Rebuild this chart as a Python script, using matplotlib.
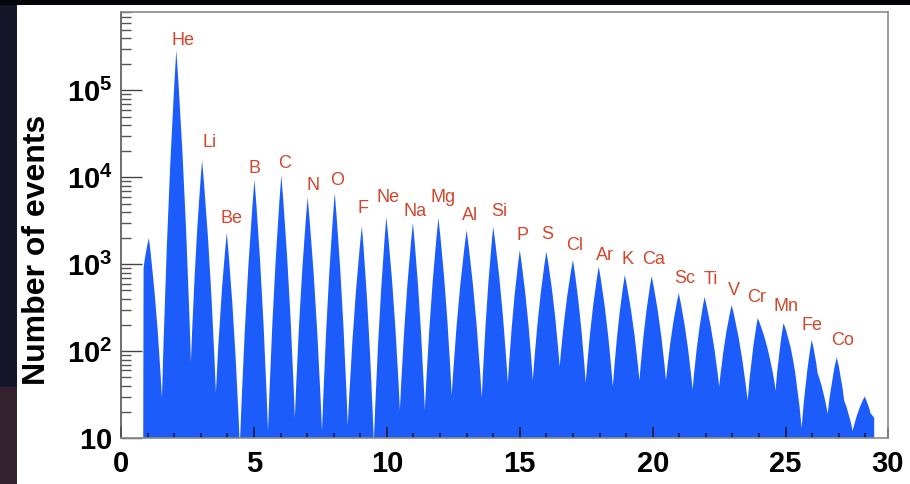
import numpy as np
import matplotlib
matplotlib.use("Agg")
import matplotlib.pyplot as plt
from matplotlib.patches import Rectangle, PathPatch
from matplotlib.path import Path

plt.rcParams['font.family'] = ['Liberation Sans', 'DejaVu Sans']
plt.rcParams['mathtext.fontset'] = 'custom'
plt.rcParams['mathtext.rm'] = 'Liberation Sans:bold'
plt.rcParams['mathtext.bf'] = 'Liberation Sans:bold'
plt.rcParams['mathtext.it'] = 'Liberation Sans:bold'

# peak tops of the charge histogram (Z, counts)
peak_z = [1.05, 2.08, 3.05, 3.98, 5.02, 6.03, 7.02, 8.04, 9.06, 9.98, 10.98, 11.94,
          13.0, 14.0, 15.0, 16.0, 17.0, 17.97, 18.95, 19.96, 20.98, 21.95, 22.97,
          23.95, 24.92, 25.98, 26.92, 27.97]
peak_counts = [2000, 2.9e5, 1.57e4, 2.3e3, 9.4e3, 1.05e4, 5.9e3, 6.6e3, 2.75e3, 3.5e3,
               3.0e3, 3.4e3, 2.46e3, 2.7e3, 1.45e3, 1.4e3, 1.12e3, 940, 750, 730,
               465, 420, 340, 240, 210, 134, 85, 30]

# minima between neighbouring peaks
valley_z = [1.54, 2.63, 3.57, 4.47, 5.53, 6.54, 7.56, 8.53, 9.51, 10.49, 11.43, 12.44,
            13.57, 14.55, 15.49, 16.5, 17.48, 18.5, 19.5, 20.5, 21.5, 22.5, 23.57,
            24.62, 25.6, 26.58, 27.52]
valley_counts = [29, 75, 33, 8, 12, 17, 12, 14, 9, 21, 21, 31, 29, 43, 46, 66, 43, 39,
                 46, 46, 36, 39, 27, 35, 13, 19, 12]

# shoulders on the high-Z peaks and the histogram edges
shoulder_z = [0.83, 0.85, 24.47, 25.26, 26.2, 27.2, 28.2, 28.33, 28.34]
shoulder_counts = [0.5, 900, 66, 85, 56, 27, 19, 17, 0.5]

elements = ['He', 'Li', 'Be', 'B', 'C', 'N', 'O', 'F', 'Ne', 'Na', 'Mg', 'Al', 'Si',
            'P', 'S', 'Cl', 'Ar', 'K', 'Ca', 'Sc', 'Ti', 'V', 'Cr', 'Mn', 'Fe', 'Co']
label_z = [2.33, 3.35, 4.14, 5.04, 6.17, 7.22, 8.12, 9.1, 10.04, 11.05, 12.1, 13.12,
           14.21, 15.11, 16.05, 17.07, 18.2, 19.06, 20.04, 21.2, 22.2, 23.05, 23.9,
           25.03, 26.0, 27.14]
label_counts = [3.76e5, 2.5e4, 3.4e3, 1.26e4, 1.44e4, 8.1e3, 9.3e3, 4.4e3, 5.9e3, 4.0e3,
                5.8e3, 3.6e3, 4.0e3, 2.15e3, 2.2e3, 1.66e3, 1.27e3, 1.12e3, 1.12e3,
                690, 660, 500, 418, 325, 198, 134]

xticks = [0, 5, 10, 15, 20, 25, 28.85]
xtick_labels = ['0', '5', '10', '15', '20', '25', '30']
yticks = [10, 1e2, 1e3, 1e4, 1e5]
ytick_labels = [r'$\mathbf{10}$', r'$\mathbf{10^{2}}$', r'$\mathbf{10^{3}}$',
                r'$\mathbf{10^{4}}$', r'$\mathbf{10^{5}}$']

z = np.array(peak_z + valley_z + shoulder_z)
c = np.array(peak_counts + valley_counts + shoulder_counts)
order = np.argsort(z)
z, c = z[order], c[order]

# outline of the histogram: each flank is a quadratic curve, slightly bulging
verts = [(z[0], c[0])]
codes = [Path.MOVETO]
for i in range(len(z) - 1):
    (za, ca), (zb, cb) = (z[i], c[i]), (z[i + 1], c[i + 1])
    if ca >= cb:
        zh, ch, zl, cl = za, ca, zb, cb
    else:
        zh, ch, zl, cl = zb, cb, za, ca
    zc = zh + 0.6 * (zl - zh)
    cc = ch * (cl / ch) ** 0.4
    verts += [(zc, cc), (zb, cb)]
    codes += [Path.CURVE3, Path.CURVE3]
verts.append((z[0], c[0]))
codes.append(Path.CLOSEPOLY)

fig = plt.figure(figsize=(9.1, 4.84), dpi=100)
fig.patch.set_facecolor('white')
# dark image border on the left and top
fig.patches.append(Rectangle((0, 0), 17 / 910, 1, transform=fig.transFigure,
                             facecolor='#15152b', edgecolor='none', zorder=0))
fig.patches.append(Rectangle((0, 0), 17 / 910, 0.2, transform=fig.transFigure,
                             facecolor='#35222f', edgecolor='none', zorder=0))
fig.patches.append(Rectangle((0, 1 - 5 / 484), 1, 5 / 484, transform=fig.transFigure,
                             facecolor='#05050a', edgecolor='none', zorder=0))

ax = fig.add_axes([121 / 910, 46 / 484, 767 / 910, 426 / 484])
ax.set_yscale('log')
ax.set_xlim(0, 28.85)
ax.set_ylim(10, 8e5)
ax.add_patch(PathPatch(Path(verts, codes), facecolor='#1c5cfa', edgecolor='none'))

ax.set_xticks(xticks)
ax.set_xticklabels(xtick_labels, fontsize=21, fontweight='bold')
ax.set_xticks(range(1, 29), minor=True)
ax.set_yticks(yticks)
ax.set_yticklabels(ytick_labels, fontsize=21)
ax.tick_params(axis='x', which='major', direction='in', length=8, width=1.2,
               color='#1a1a40', pad=9)
ax.tick_params(axis='x', which='minor', direction='in', length=3.5, width=1.2,
               color='#1a1a40')
ax.tick_params(axis='y', which='major', direction='in', length=15, width=1,
               color='#444444', pad=6)
ax.tick_params(axis='y', which='minor', direction='in', length=7, width=1,
               color='#555555')
ax.tick_params(top=False, right=False, which='both')

for s in ax.spines.values():
    s.set_color('#8a8a8a')
    s.set_linewidth(1.2)
ax.spines['left'].set_color('#555555')

ax.set_ylabel('Number of events', fontsize=23, fontweight='bold')
ax.yaxis.set_label_coords(-(121 - 52) / 767, (438 - 250) / 426)

for name, lz, lc in zip(elements, label_z, label_counts):
    ax.text(lz, lc, name, color='#d4452c', fontsize=13, ha='center', va='center')

fig.savefig('out.png', dpi=100)
